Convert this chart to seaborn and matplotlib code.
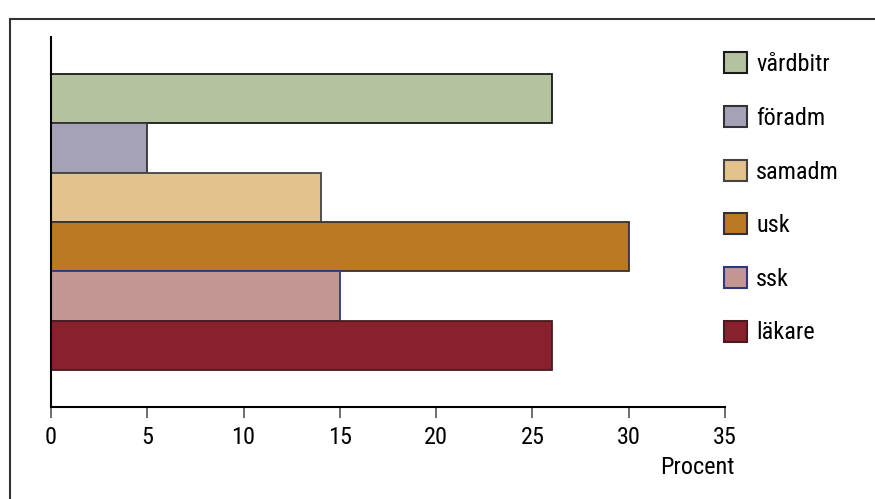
import matplotlib
matplotlib.use("Agg")
import matplotlib.pyplot as plt
from matplotlib.patches import Patch
from matplotlib.lines import Line2D
import seaborn as sns
import pandas as pd

# Yrkesgrupper och andel (procent)
categories = ["vårdbitr", "föradm", "samadm", "usk", "ssk", "läkare"]
values = [26, 5, 14, 30, 15, 26]
fill_colors = ["#b4c29f", "#a5a2b8", "#e4c28e", "#bb7923", "#c49693", "#88202e"]
edge_colors = ["#1a1a1a", "#333333", "#444444", "#333333", "#2e3a7e", "#4a1a1e"]
x_ticks = [0, 5, 10, 15, 20, 25, 30, 35]
x_label = "Procent"

FS = 17.5

sns.set_theme(style="white")
plt.rcParams["font.family"] = ["Roboto Condensed", "DejaVu Sans"]
plt.rcParams["text.color"] = "black"
plt.rcParams["xtick.color"] = "black"

df = pd.DataFrame({"grupp": categories, "procent": values})

fig = plt.figure(figsize=(8.75, 4.99), dpi=100)
ax = fig.add_axes([51 / 875, 1 - 407 / 499, 674 / 875, 370 / 499])

sns.barplot(data=df, x="procent", y="grupp", hue="grupp", order=categories,
            hue_order=categories, palette=fill_colors, orient="h",
            width=1.0, dodge=False, legend=False, saturation=1, ax=ax)

for bar, ec in zip(ax.patches, edge_colors):
    bar.set_edgecolor(ec)
    bar.set_linewidth(1.3)

ax.set_xlim(0, 35)
ax.set_ylim(len(categories) - 0.5 + 0.75, -0.5 - 0.75)
ax.set_xticks(x_ticks)
ax.set_xticklabels([str(t) for t in x_ticks], fontsize=FS)
ax.set_yticks([])
ax.set_ylabel("")
ax.set_xlabel("")
ax.tick_params(axis="x", direction="out", length=8, width=1.2,
               color="#555555", labelcolor="black", pad=6, bottom=True)
for side in ("top", "right"):
    ax.spines[side].set_visible(False)
for side in ("left", "bottom"):
    ax.spines[side].set_color("black")
    ax.spines[side].set_linewidth(1.5)

fig.text(735 / 875, 1 - 468 / 499, x_label, ha="right", va="center",
         fontsize=FS, color="black")

handles = [Patch(facecolor=fc, edgecolor=ec, linewidth=1.5)
           for fc, ec in zip(fill_colors, edge_colors)]
fig.legend(handles, categories, loc="upper left",
           bbox_to_anchor=(724 / 875, 1 - 52.5 / 499), frameon=False,
           fontsize=FS, handlelength=0.95, handleheight=0.95,
           handletextpad=0.37, labelspacing=1.225, borderpad=0,
           borderaxespad=0, labelcolor="black")

# Ram runt figuren (vänster- och överkant)
fig.add_artist(Line2D([10 / 875, 10 / 875], [-0.05, 1 - 19 / 499],
                      transform=fig.transFigure, color="#333333", lw=1.5))
fig.add_artist(Line2D([10 / 875, 1.05], [1 - 19 / 499, 1 - 19 / 499],
                      transform=fig.transFigure, color="#333333", lw=1.5))

fig.savefig("out.png", dpi=100)
